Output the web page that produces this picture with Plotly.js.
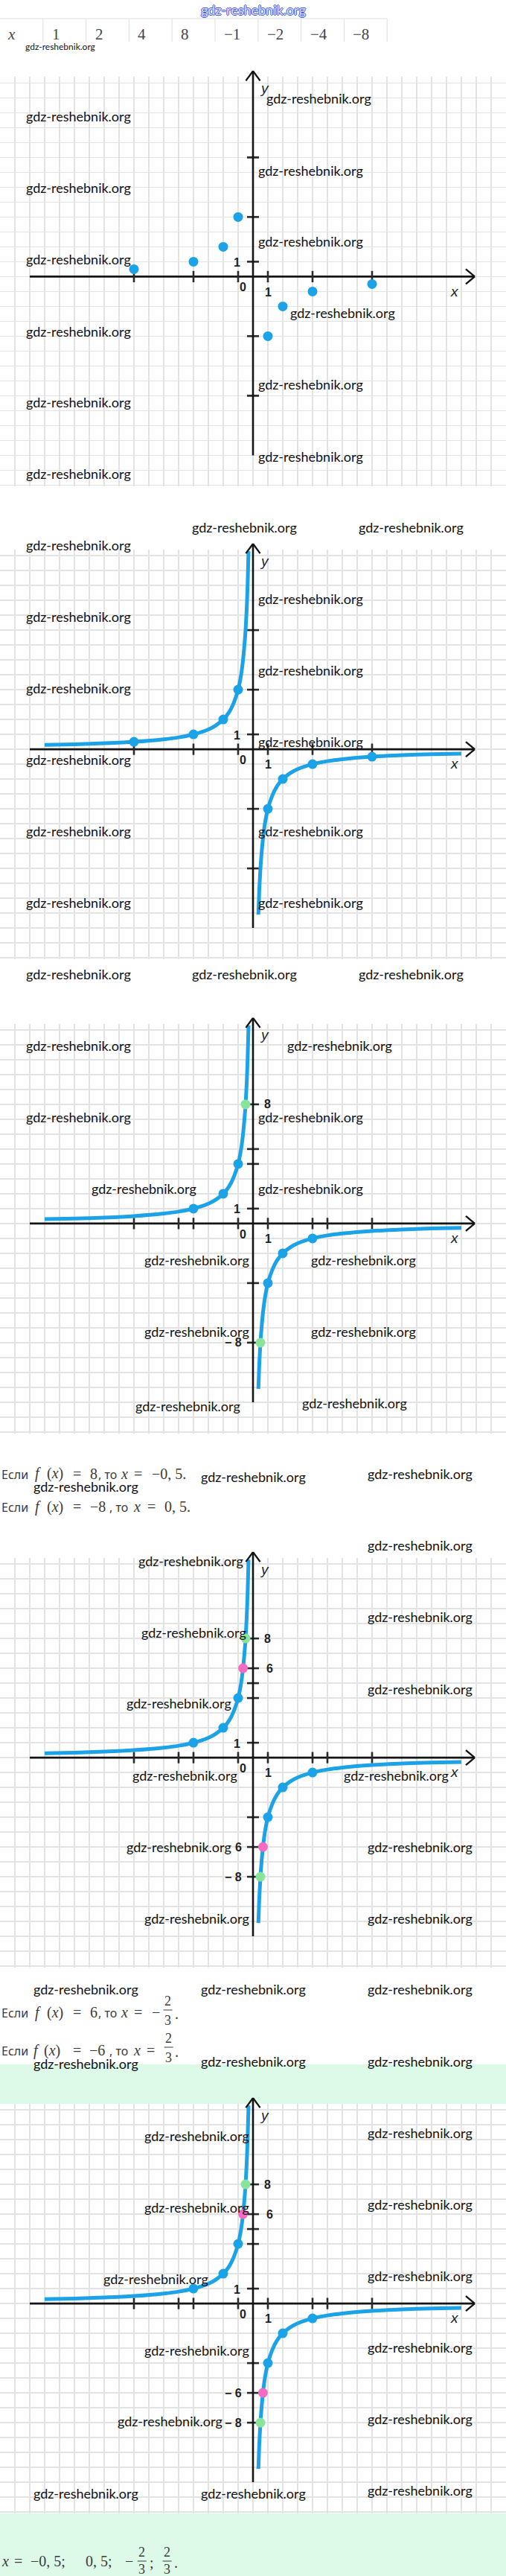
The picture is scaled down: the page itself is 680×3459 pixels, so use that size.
<!DOCTYPE html>
<html><head><meta charset="utf-8">
<script src="https://cdn.plot.ly/plotly-3.0.1.min.js"></script>
<style>html,body{margin:0;padding:0;background:#fff}#chart{width:680px;height:3459px}</style>
</head><body><div id="chart"></div>
<script>
// ---------- data ----------
const tableLabel = 'x';
const tableXValues = ['1', '2', '4', '8', '−1', '−2', '−4', '−8'];
const pointX = [1, 2, 4, 8, -1, -2, -4, -8];
const pointY = [-4, -2, -1, -0.5, 4, 2, 1, 0.5];
const innerPointX = [-4, -2, -1, 1, 2, 4];
const innerPointY = [1, 2, 4, -4, -2, -1];
const curveLeftX = [-14, -12, -10, -8, -6, -5, -4, -3, -2.5, -2, -1.6, -1.3, -1, -0.8, -0.67, -0.55, -0.5, -0.42, -0.36, -0.3];
const curveLeftY = [0.29, 0.33, 0.4, 0.5, 0.67, 0.8, 1, 1.33, 1.6, 2, 2.5, 3.1, 4, 5, 6, 7.3, 8, 9.5, 11.1, 13.3];
const curveRightX = [0.36, 0.42, 0.5, 0.55, 0.67, 0.8, 1, 1.3, 1.6, 2, 2.5, 3, 4, 5, 6, 8, 10, 12, 14];
const curveRightY = [-11.1, -9.5, -8, -7.3, -6, -5, -4, -3.1, -2.5, -2, -1.6, -1.33, -1, -0.8, -0.67, -0.5, -0.4, -0.33, -0.29];
const greenX = [-0.5, 0.5];
const greenY = [8, -8];
const pinkX = [-0.67, 0.67];
const pinkY = [6, -6];
const xTicksA = [-8, -4, -1, 1, 4, 8];
const xTicksB = [-8, -5, -4, -1, 1, 4, 5, 8];
const yTicks1 = [8, 4, 1, -4, -8];
const yTicks3 = [8, 5, 4, 1, -4, -8];
const yTicks4 = [8, 6, 5, 4, 1, -4, -6, -8];
const labelsCommon = [['0', -0.7, -0.72], ['1', 1.0, -1.03], ['1', -1.07, 0.95]];
const labels3 = [['8', 0.95, 8], ['− 8', -1.35, -8]];
const labels4 = [['8', 0.95, 8], ['6', 1.12, 6], ['6', -1.0, -6], ['− 8', -1.35, -8]];
const labels5 = [['8', 0.95, 8], ['6', 1.12, 6], ['− 6', -1.35, -6], ['− 8', -1.35, -8]];

// ---------- page geometry ----------
const W = 680, H = 3459;
const BLUE = '#1ca2e6', GREEN = '#88e39b', PINK = '#f26cc4';
const YMIN = -14.1, YMAX = 13.4, UNIT = 20;
const originsY = [371.4, 1006.1, 1642.9, 2360.1, 3093.1];

const P = px => px / W;
const Q = py => 1 - py / H;
const annotations = [], shapes = [], traces = [];
const WM = {family: 'Lato, sans-serif', size: 18, color: '#111111'};
const MATH = {family: 'Liberation Serif, serif', size: 20, color: '#3a3a3a'};
const SANSF = {family: 'Noto Sans, sans-serif', size: 16, color: '#3a3a3a'};
const TICKF = {family: 'Liberation Sans, Arial, sans-serif', size: 16, color: '#222', weight: 'bold'};
const AXF = {family: 'Liberation Sans, Arial, sans-serif', size: 19, color: '#222', style: 'italic'};
function ptext(text, px, py, font, xanchor) {
  annotations.push({xref: 'paper', yref: 'paper', x: P(px), y: Q(py), text: text, showarrow: false,
    xanchor: xanchor || 'left', yanchor: 'middle', font: font});
}
function pline(x0, y0, x1, y1, color, width, layer) {
  shapes.push({type: 'line', xref: 'paper', yref: 'paper', x0: P(x0), y0: Q(y0), x1: P(x1), y1: Q(y1),
    line: {color: color, width: width}, layer: layer || 'above'});
}
function prect(x0, y0, x1, y1, color) {
  shapes.push({type: 'rect', xref: 'paper', yref: 'paper', x0: P(x0), y0: Q(y1), x1: P(x1), y1: Q(y0),
    line: {width: 0}, fillcolor: color, layer: 'below'});
}

// backgrounds
prect(0, 2772, 680, 3459, '#dcfae7');
prect(0, originsY[4] - YMAX * UNIT, 680, originsY[4] - YMIN * UNIT, '#ffffff');

// header watermark
annotations.push({xref: 'paper', yref: 'paper', x: 0.5, y: Q(13), text: 'gdz-reshebnik.org', showarrow: false,
  xanchor: 'center', yanchor: 'middle',
  font: {family: 'Lato, sans-serif', size: 18, color: '#dfe2ff',
    shadow: '1px 0 0 #4457e8, -1px 0 0 #4457e8, 0 1px 0 #4457e8, 0 -1px 0 #4457e8'}});

// table
const cellW = 57.8;
pline(0, 25, 9 * cellW, 25, '#dedede', 1);
for (let c = 1; c <= 9; c++) pline(c * cellW, 25, c * cellW, 56, '#dedede', 1);
ptext('<i>' + tableLabel + '</i>', 8, 46, {family: 'Liberation Serif, serif', size: 21, color: '#444'});
tableXValues.forEach((v, k) => ptext(v, (k + 1) * cellW + 10, 46, {family: 'Liberation Serif, serif', size: 21, color: '#444'}));
ptext('gdz-reshebnik.org', 32, 63, {family: 'Lato, sans-serif', size: 12, color: '#141414'});

// ---------- charts ----------
const charts = [
  {xt: xTicksA, yt: yTicks1, curve: false, bx: pointX, by: pointY, green: false, pink: false, extra: []},
  {xt: xTicksA, yt: yTicks1, curve: true, bx: pointX, by: pointY, green: false, pink: false, extra: []},
  {xt: xTicksB, yt: yTicks3, curve: true, bx: innerPointX, by: innerPointY, green: true, pink: false, extra: labels3},
  {xt: xTicksB, yt: yTicks4, curve: true, bx: innerPointX, by: innerPointY, green: true, pink: true, extra: labels4},
  {xt: xTicksB, yt: yTicks4, curve: true, bx: innerPointX, by: innerPointY, green: true, pink: true, extra: labels5}
];
const layout = {width: W, height: H, margin: {l: 0, r: 0, t: 0, b: 0}, paper_bgcolor: '#ffffff',
  plot_bgcolor: 'rgba(0,0,0,0)', showlegend: false};
const gridAxis = {showgrid: true, gridcolor: '#e3e3e3', gridwidth: 1.4, dtick: 1, tick0: 0, showticklabels: false,
  ticks: '', zeroline: false, showline: false, fixedrange: true};

charts.forEach((c, k) => {
  const s = k === 0 ? '' : String(k + 1);
  const xr = 'x' + s, yr = 'y' + s;
  const oy = originsY[k];
  const top = oy - YMAX * UNIT, bot = oy - YMIN * UNIT;
  const dom = [Q(bot), Q(top)];
  layout['xaxis' + s] = Object.assign({domain: [0, 1], range: [-17, 17], anchor: yr}, gridAxis);
  layout['yaxis' + s] = Object.assign({domain: dom, range: [YMIN, YMAX], anchor: xr}, gridAxis);
  const yp = v => dom[0] + (v - YMIN) / (YMAX - YMIN) * (dom[1] - dom[0]);
  const dl = (x0, y0, x1, y1, w, col) => shapes.push({type: 'line', xref: xr, yref: yr, x0: x0, y0: y0, x1: x1, y1: y1,
    line: {color: col, width: w}, layer: 'between'});
  dl(-15, 0, 14.9, 0, 2.6, '#141414');
  dl(14.3, 0.5, 14.9, 0, 2.4, '#141414');
  dl(14.3, -0.5, 14.9, 0, 2.4, '#141414');
  shapes.push({type: 'line', xref: xr, yref: 'paper', x0: 0, x1: 0, y0: yp(-12), y1: yp(13.8), line: {color: '#141414', width: 2.6}, layer: 'above'});
  shapes.push({type: 'line', xref: xr, yref: 'paper', x0: -0.48, x1: 0, y0: yp(13.15), y1: yp(13.8), line: {color: '#141414', width: 2.4}, layer: 'above'});
  shapes.push({type: 'line', xref: xr, yref: 'paper', x0: 0.48, x1: 0, y0: yp(13.15), y1: yp(13.8), line: {color: '#141414', width: 2.4}, layer: 'above'});
  c.xt.forEach(t => dl(t, -0.38, t, 0.38, 2.6, '#2a2a2a'));
  c.yt.forEach(t => dl(-0.4, t, 0.4, t, 2.6, '#2a2a2a'));
  if (c.curve) {
    traces.push({x: curveLeftX, y: curveLeftY, xaxis: xr, yaxis: yr, mode: 'lines', line: {color: BLUE, width: 5, shape: 'spline', smoothing: 0.6}, hoverinfo: 'skip'});
    traces.push({x: curveRightX, y: curveRightY, xaxis: xr, yaxis: yr, mode: 'lines', line: {color: BLUE, width: 5, shape: 'spline', smoothing: 0.6}, hoverinfo: 'skip'});
  }
  traces.push({x: c.bx, y: c.by, xaxis: xr, yaxis: yr, mode: 'markers', marker: {size: 13, color: BLUE}, hoverinfo: 'skip'});
  if (c.green) traces.push({x: greenX, y: greenY, xaxis: xr, yaxis: yr, mode: 'markers', marker: {size: 13, color: GREEN}, hoverinfo: 'skip'});
  if (c.pink) traces.push({x: pinkX, y: pinkY, xaxis: xr, yaxis: yr, mode: 'markers', marker: {size: 13, color: PINK}, hoverinfo: 'skip'});
  labelsCommon.concat(c.extra).forEach(l => annotations.push({xref: xr, yref: yr, x: l[1], y: l[2], text: l[0], showarrow: false,
    xanchor: 'center', yanchor: 'middle', font: TICKF}));
  annotations.push({xref: xr, yref: yr, x: 13.57, y: -0.98, text: 'x', showarrow: false, xanchor: 'center', yanchor: 'middle', font: AXF});
  annotations.push({xref: xr, yref: yr, x: 0.78, y: 12.65, text: 'y', showarrow: false, xanchor: 'center', yanchor: 'middle', font: AXF});
});

// ---------- watermarks ----------
const wmPos = [
  [355.6, 132], [32.5, 156], [344.8, 228.6], [32.5, 251.8], [344.8, 324.3], [32.5, 348.2], [388, 420.4], [32.5, 444.6],
  [344.8, 516], [32.5, 540], [344.8, 612.5], [32.5, 635.7],
  [256, 708.2], [480, 708.2], [32.5, 732.2], [344.8, 803.6], [32.5, 828.1], [344.8, 900], [32.5, 924], [344.8, 995.9],
  [32.5, 1020.3], [344.8, 1116.2], [32.5, 1116.2], [344.8, 1211.7], [32.5, 1211.7],
  [32.5, 1308], [256, 1308], [480, 1308], [32.5, 1404], [383.8, 1404], [32.5, 1499.5], [344.8, 1499.5], [120.6, 1595.5],
  [344.8, 1595.5], [192, 1692], [416.3, 1692], [192, 1787.5], [416.3, 1787.5], [180, 1888.4], [404, 1884],
  [268, 1983], [492, 1979.5], [43, 1996],
  [492, 2075], [184, 2096], [492, 2171], [187.8, 2192.4], [492, 2267.6], [168, 2287.4], [175.6, 2384.4], [459.7, 2384.4],
  [168, 2479.9], [492, 2479.9], [192, 2575.8], [492, 2575.8], [43, 2671.3], [268, 2671.3], [492, 2671.3],
  [43, 2771], [268, 2768.4], [492, 2768.4], [192, 2867.5], [492, 2863.8], [192, 2963.7], [492, 2960], [136.6, 3060],
  [492, 3056.4], [192, 3155.9], [492, 3151.7], [156, 3251.2], [492, 3248], [43, 3347.5], [268, 3347.5], [492, 3344.3]
];
wmPos.forEach(p => ptext('gdz-reshebnik.org', p[0], p[1], WM));

// ---------- solution text (segments placed where the reference puts them) ----------
function seg(parts, y) {
  parts.forEach(p => ptext(p[0], p[1], y + (p[2] === 's' ? 1 : 0), p[2] === 's' ? SANSF : MATH));
}
const FR = {family: 'Liberation Serif, serif', size: 18, color: '#3a3a3a'};
function frac(cx, barY, cut) {
  ptext('2', cx, barY - 12.5, FR, 'center');
  ptext('3', cx, barY + (cut ? 11 : 13.5), FR, 'center');
  pline(cx - 6, barY, cx + 6, barY, '#3a3a3a', 1);
}
seg([['Если', 0, 's'], ['<i>f</i>', 45], ['(<i>x</i>)', 61], ['=', 96], ['8', 119], [', то', 130, 's'],
     ['<i>x</i>', 160], ['=', 178], ['−0, 5.', 202]], 1978.6);
seg([['Если', 0, 's'], ['<i>f</i>', 45], ['(<i>x</i>)', 61], ['=', 96], ['−8', 119], [', то', 145, 's'],
     ['<i>x</i>', 177], ['=', 196], ['0, 5.', 219]], 2023.3);
seg([['Если', 0, 's'], ['<i>f</i>', 45], ['(<i>x</i>)', 61], ['=', 96], ['6', 119], [', то', 130, 's'],
     ['<i>x</i>', 160], ['=', 178], ['−', 202]], 2702);
frac(225.5, 2699); ptext('.', 233, 2704, MATH);
seg([['Если', 0, 's'], ['<i>f</i>', 43], ['(<i>x</i>)', 57], ['=', 96], ['−6', 118], [', то', 145, 's'],
     ['<i>x</i>', 177], ['=', 195]], 2753);
frac(226.7, 2749); ptext('.', 233, 2755, MATH);
seg([['<i>x</i>', 0], ['=', 17], ['−0, 5;', 39], ['0, 5;', 113], ['−', 166]], 3439);
frac(190.8, 3439, true); ptext(';', 199, 3441, MATH);
frac(224.6, 3439, true); ptext('.', 232, 3441, MATH);

layout.shapes = shapes;
layout.annotations = annotations;
Plotly.newPlot('chart', traces, layout, {staticPlot: true, displayModeBar: false});
</script>
</body></html>
